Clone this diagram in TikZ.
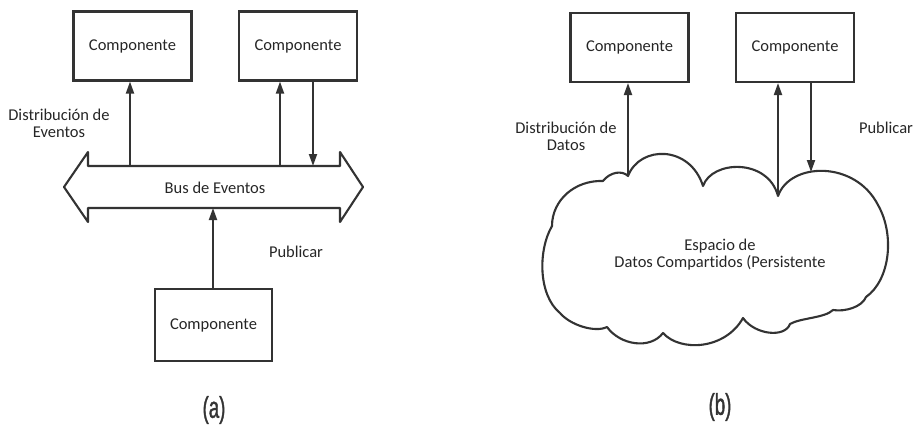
\documentclass[tikz,border=0pt]{standalone}
\usepackage{fontspec}
\setmainfont{Carlito}[Ligatures=NoCommon]
\newfontfamily\capfont[FakeStretch=0.62,FakeBold=1.2]{Liberation Sans}
\usetikzlibrary{arrows.meta}
\begin{document}
\begin{tikzpicture}[x=1pt,y=-1pt,
  every node/.style={font=\fontsize{16.5}{18}\selectfont, text=black!85},
  box/.style={draw=black!80, line width=2.1pt, minimum width=118pt, minimum height=69pt, inner sep=0pt},
  arr/.style={draw=black!80, line width=1.9pt, -{Triangle[length=12pt,width=8pt]}},
  outline/.style={draw=black!80, line width=2.1pt, line join=round},
  lbl/.style={align=center, font=\fontsize{16.5}{17}\selectfont},
  captionlbl/.style={font=\capfont\fontsize{30}{30}\selectfont, text=black!80}]
\useasboundingbox (0,0) rectangle (917,428);

% ---------- (a) ----------
\node[box] (a1) at (132.5,46) {Componente};
\node[box] (a2) at (298,46) {Componente};
\node[box, minimum height=72pt, minimum width=117pt] (a3) at (213.5,325) {Componente};

\draw[outline] (64,187) -- (88,152) -- (88,166) -- (340,166) -- (340,152) -- (363,187)
  -- (340,222) -- (340,208) -- (88,208) -- (88,222) -- cycle;
\node (bus) at (215,188) {Bus de Eventos};

\coordinate (ba1) at (130,166);
\coordinate (ba2) at (280,166);
\coordinate (ba3) at (313,166);
\coordinate (ba4) at (213,208);
\draw[arr] (ba1) -- (ba1 |- a1.south);
\draw[arr] (ba2) -- (ba2 |- a2.south);
\draw[arr] (ba3 |- a2.south) -- (ba3);
\draw[arr] (ba4 |- a3.north) -- (ba4);

\node[lbl] (la1) at (59,123) {Distribución de\\Eventos};
\node[lbl] (la2) at (296,252) {Publicar};
\node[captionlbl] (capa) at (214,410) {(a)};

% ---------- (b) ----------
\node[box] (b1) at (629.5,47.5) {Componente};
\node[box] (b2) at (795,47.5) {Componente};

\draw[outline] (552,226)
  .. controls (552,200) and (575,180) .. (603,181)
  .. controls (610,172) and (622,170) .. (628,176)
  .. controls (640,145) and (690,145) .. (703,186)
  .. controls (712,160) and (768,158) .. (778,196)
  .. controls (790,162) and (855,160) .. (878,205)
  .. controls (895,235) and (890,280) .. (866,297)
  .. controls (862,307) and (845,312) .. (833,310)
  .. controls (825,318) and (800,318) .. (790,324)
  .. controls (785,338) and (755,335) .. (743,318)
  .. controls (725,350) and (680,352) .. (663,333)
  .. controls (650,350) and (620,345) .. (607,327)
  .. controls (595,333) and (570,325) .. (560,313)
  .. controls (538,295) and (538,250) .. (552,226) -- cycle;
\node[lbl] (cloud) at (720,255) {Espacio de\\Datos Compartidos (Persistente};

\coordinate (cb1) at (628,176);
\coordinate (cb2) at (778,196);
\coordinate (cb3) at (811,172);
\draw[arr] (cb1) -- (cb1 |- b1.south);
\draw[arr] (cb2) -- (cb2 |- b2.south);
\draw[arr] (cb3 |- b2.south) -- (cb3);

\node[lbl] (lb1) at (566,136) {Distribución de\\Datos};
\node[lbl] (lb2) at (886,128) {Publicar};
\node[captionlbl] (capb) at (720,407) {(b)};
\end{tikzpicture}
\end{document}
